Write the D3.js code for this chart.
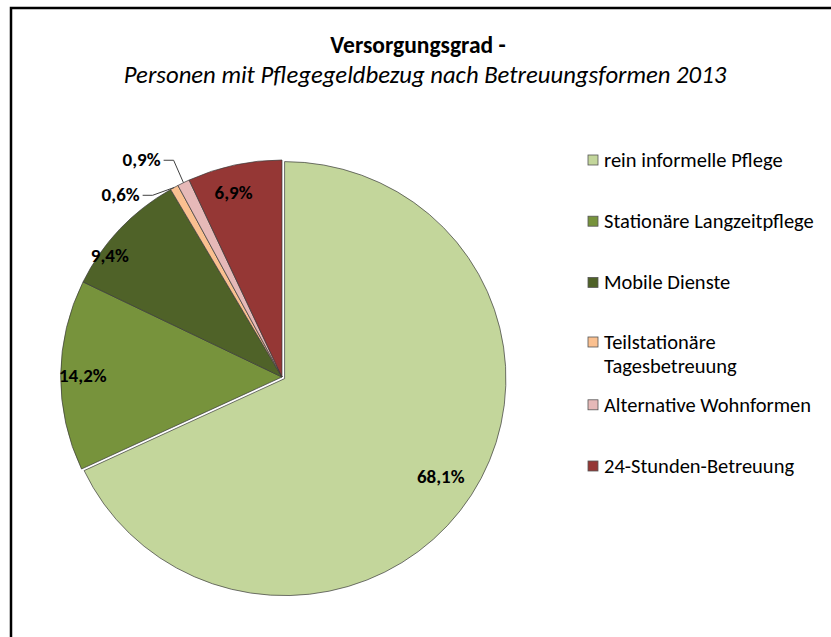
<!DOCTYPE html>
<html>
<head>
<meta charset="utf-8">
<script src="https://cdn.jsdelivr.net/npm/d3@7"></script>
<style>
  body { margin: 0; background: #fff; }
  svg { display: block; font-family: Carlito, Calibri, Lato, sans-serif; }
</style>
</head>
<body>
<svg id="chart" width="831" height="637"></svg>
<script>
// data
var categories = ["rein informelle Pflege", "Stationäre Langzeitpflege", "Mobile Dienste",
    "Teilstationäre Tagesbetreuung", "Alternative Wohnformen", "24-Stunden-Betreuung"];
var values = [68.1, 14.2, 9.4, 0.6, 0.9, 6.9];
var labels = ["68,1%", "14,2%", "9,4%", "0,6%", "0,9%", "6,9%"];
var legendLines = [["rein informelle Pflege"], ["Stationäre Langzeitpflege"], ["Mobile Dienste"],
    ["Teilstationäre", "Tagesbetreuung"], ["Alternative Wohnformen"], ["24-Stunden-Betreuung"]];
var colors = ["#c3d69b", "#77933c", "#4f6228", "#fac090", "#e6b9b8", "#953735"];

function generateChart() {
    var svg = d3.select("#chart");
    var cx = 282, cy = 377, radius = 217, stretchX = 1.02;

    // frame
    svg.append("path")
        .attr("d", "M11,640 L11,8 L835,8")
        .attr("fill", "none")
        .attr("stroke", "#000")
        .attr("stroke-width", 2.5);

    // titles
    svg.append("text")
        .attr("x", 418).attr("y", 53)
        .attr("text-anchor", "middle")
        .attr("font-size", 23.5).attr("font-weight", "bold")
        .text("Versorgungsgrad -");
    svg.append("text")
        .attr("x", 425).attr("y", 83)
        .attr("text-anchor", "middle")
        .attr("font-size", 24.7).attr("font-style", "italic")
        .text("Personen mit Pflegegeldbezug nach Betreuungsformen 2013");

    var pie = d3.pie().sort(null).value(d => d)(values);
    var arc = d3.arc().innerRadius(0).outerRadius(radius);

    var g = svg.append("g")
        .attr("transform", "translate(" + cx + "," + cy + ") scale(" + stretchX + ",1)");

    g.selectAll(".slice")
        .data(pie)
        .enter()
        .append("path")
        .attr("class", "slice")
        .attr("d", arc)
        .attr("fill", (d, i) => colors[i])
        .attr("stroke", "#3a3a3a")
        .attr("stroke-width", 0.7)
        .attr("transform", (d, i) => {
            if (i !== 0) return null;
            var a = (d.startAngle + d.endAngle) / 2;
            return "translate(" + (3 * Math.sin(a)) + "," + (-3 * Math.cos(a)) + ")";
        });

    // labels
    var labelRadius = [0.85, 0.9, 0.96, 1.08, 1.1, 0.88];
    var labelShift = [0, 0, -7, 0, 0, -2];   // degrees
    var lbl = svg.append("g").attr("font-size", 19).attr("font-weight", "bold").attr("fill", "#000");
    pie.forEach((d, i) => {
        var a = (d.startAngle + d.endAngle) / 2 + labelShift[i] * Math.PI / 180;
        var r = radius * labelRadius[i];
        var x = cx + stretchX * r * Math.sin(a), y = cy - r * Math.cos(a);
        if (labelRadius[i] > 1) {
            var ex = cx + stretchX * radius * Math.sin(a), ey = cy - radius * Math.cos(a);
            var ty = i === 3 ? y + 23 : y - 3;
            var tx = i === 3 ? x - 13 : x;
            svg.append("polyline")
                .attr("points", [[ex, ey], [tx, ty], [tx - 10, ty]].map(p => p.join(",")).join(" "))
                .attr("fill", "none").attr("stroke", "#404040").attr("stroke-width", 1);
            lbl.append("text")
                .attr("x", tx - 13).attr("y", ty + 6)
                .attr("text-anchor", "end")
                .text(labels[i]);
        } else {
            lbl.append("text")
                .attr("x", x).attr("y", y + 7)
                .attr("text-anchor", "middle")
                .text(labels[i]);
        }
    });

    // legend
    var legendY = d3.scalePoint().domain(d3.range(categories.length)).range([160, 466]);
    var leg = svg.append("g").attr("font-size", 20.5).attr("fill", "#000");
    categories.forEach((c, i) => {
        var y = legendY(i);
        if (i === 3) y = 342;
        leg.append("rect")
            .attr("x", 588).attr("y", y - 5)
            .attr("width", 10).attr("height", 10)
            .attr("fill", colors[i]).attr("stroke", "#555").attr("stroke-width", 0.8);
        legendLines[i].forEach((t, k) => {
            leg.append("text")
                .attr("x", 604).attr("y", y + 7 + k * 24)
                .text(t);
        });
    });
}

generateChart();
</script>
</body>
</html>
